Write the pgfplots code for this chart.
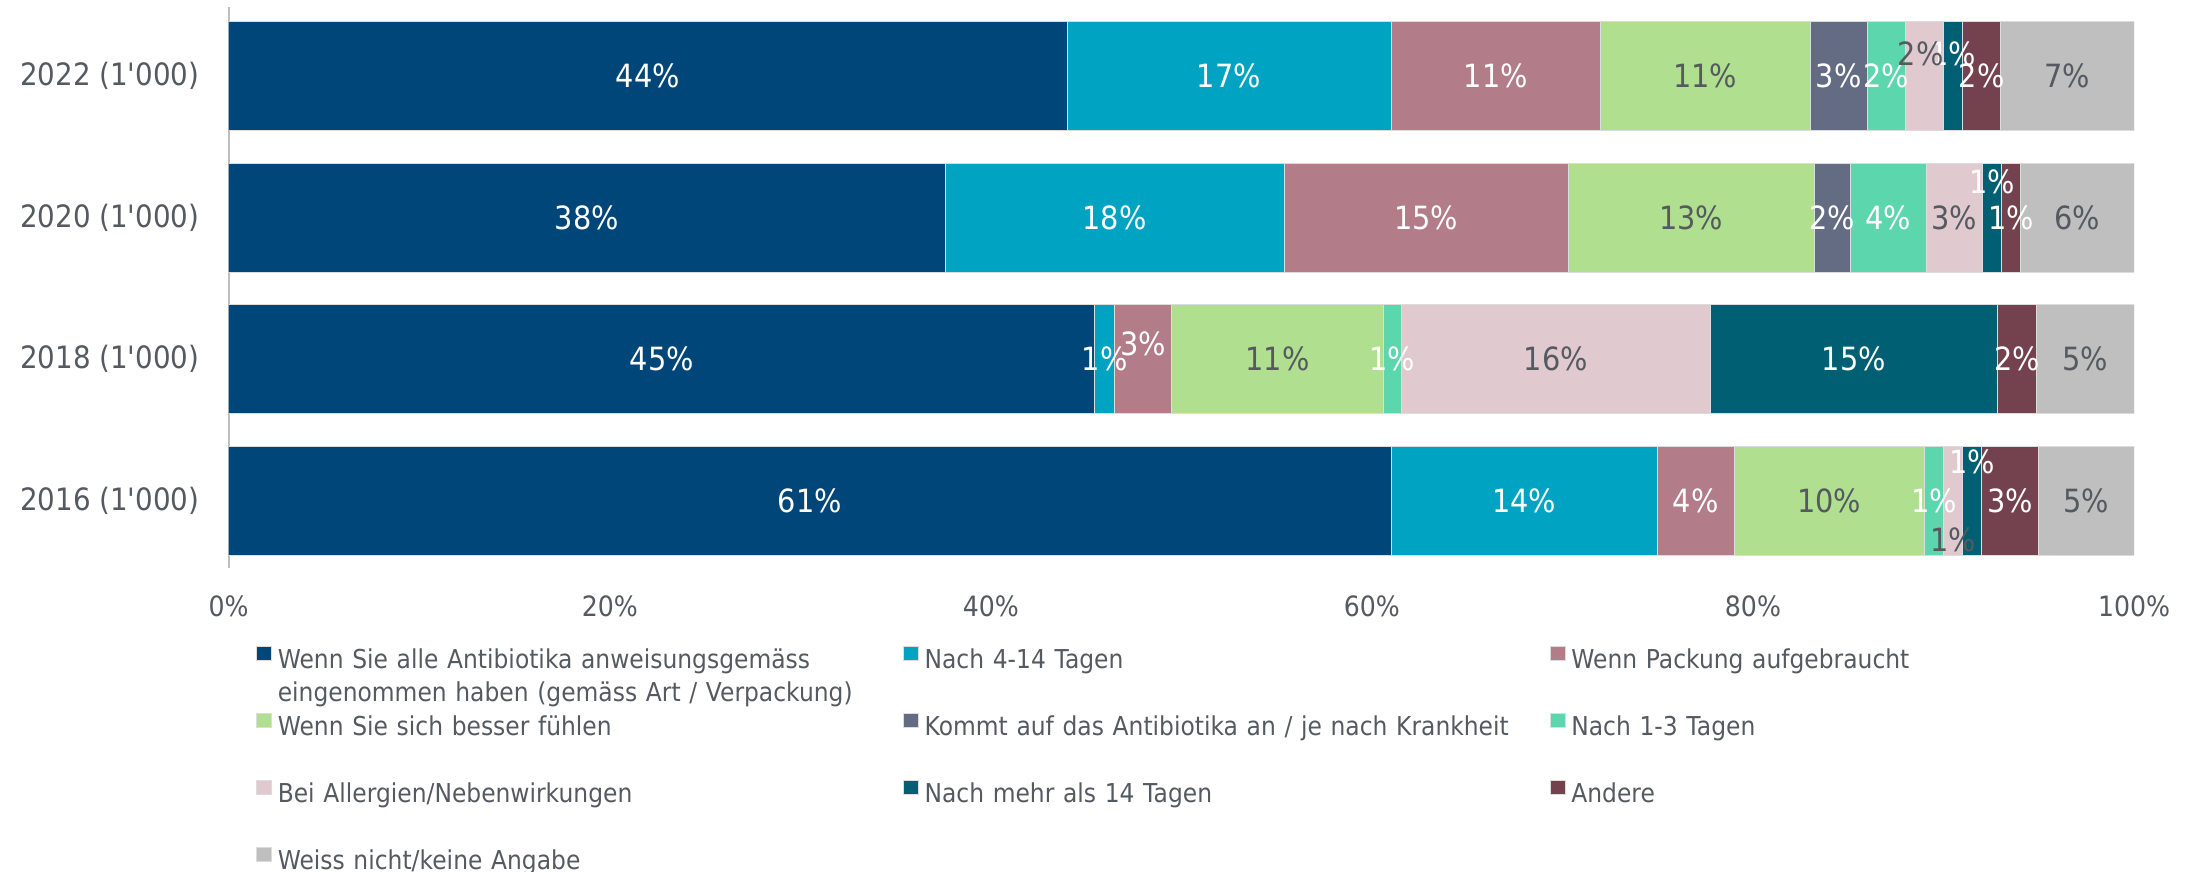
\documentclass[border=0pt]{standalone}
\usepackage{pgfplots}
\usepackage{pgfplotstable}
\pgfplotsset{compat=1.18}
\usepackage{fontspec}
\setmainfont{DejaVu Sans}[FakeStretch=0.9, Ligatures=TeXOff]
\definecolor{c1}{RGB}{0,70,120}
\definecolor{c2}{RGB}{0,163,194}
\definecolor{c3}{RGB}{178,124,136}
\definecolor{c4}{RGB}{176,224,143}
\definecolor{c5}{RGB}{99,108,131}
\definecolor{c6}{RGB}{92,214,172}
\definecolor{c7}{RGB}{224,201,207}
\definecolor{c8}{RGB}{0,95,115}
\definecolor{c9}{RGB}{115,66,78}
\definecolor{c10}{RGB}{191,191,191}
\definecolor{txt}{RGB}{85,90,96}
\definecolor{seam}{RGB}{220,220,220}

\pgfplotstableread{
y A B C D E F G H I J
0 61 14 4 10 0 1 1 1 3 5
1 45.45 1.05 3.0 11.1 0 0.95 16.2 15.1 2.05 5.1
2 37.6 17.8 14.9 12.9 1.9 4.0 2.95 1.0 1.0 5.95
3 44 17 11 11 3 2 2 1 2 7
}\data

\pgfplotstableread{
x y lab
22 3 44
52.5 3 17
66.5 3 11
84.5 3 3
87 3 2
90.5 3.16 1
92 3 2
18.8 2 38
46.5 2 18
62.85 2 15
84.15 2 2
87.1 2 4
92.55 2.255 1
93.55 2 1
22.725 1 45
45.975 1 1
48 1.11 3
61.075 1 1
85.3 1 15
93.875 1 2
30.5 0 61
68 0 14
77 0 4
89.5 0 1
91.5 0.27 1
93.5 0 3
}\labw

\pgfplotstableread{
x y lab
77.5 3 11
88.8 3.16 2
96.5 3 7
76.75 2 13
90.575 2 3
97.025 2 6
55.05 1 11
69.65 1 16
97.45 1 5
84 0 10
90.5 -0.28 1
97.5 0 5
}\labg

\pgfplotsset{
  myleg/.style={legend image code/.code={\fill[##1] (0pt,0pt) rectangle (7.5pt,7pt); \path (10.5pt,0pt);}},
  barsty/.style={fill=#1, draw=seam, line width=0.4pt, myleg},
}

\begin{document}
\begin{tikzpicture}
\begin{axis}[
  at={(114.35pt,152pt)}, anchor=south west,
  scale only axis, width=952.65pt, height=280.5pt,
  xbar stacked, bar width=54.5pt,
  xmin=0, xmax=100, ymin=-0.477, ymax=3.489,
  axis x line*=bottom, axis y line*=left,
  x axis line style={draw=none},
  y axis line style={draw=c10, line width=1pt},
  major tick length=0pt, tick style={draw=none},
  ytick={0,1,2,3},
  yticklabels={2016 (1'000), 2018 (1'000), 2020 (1'000), 2022 (1'000)},
  xtick={0,20,40,60,80,100},
  xticklabels={0\%,20\%,40\%,60\%,80\%,100\%},
  yticklabel style={font=\fontsize{15.4}{18}\selectfont, text=txt, inner sep=0pt, anchor=east, xshift=-14.5pt},
  xticklabel style={font=\fontsize{14}{17}\selectfont, text=txt, inner sep=0pt, anchor=base, yshift=-24.5pt},
  legend columns=3,
  legend cell align=left,
  legend style={at={(axis description cs:0.01433,-0.139)}, anchor=north west,
    draw=none, fill=none, inner sep=0pt, outer sep=0pt,
    column sep=0pt, row sep=20.5pt,
    font=\fontsize{13}{16.5}\selectfont, text=txt,
    nodes={inner sep=0pt, outer sep=0pt},
    /tikz/every even column/.append style={text width=312.5pt, align=left, text height=10pt, text depth=3pt}},
]
\addplot[barsty=c1] table[x=A, y=y]{\data};
\addlegendentry{Wenn Sie alle Antibiotika anweisungsgemäss\\eingenommen haben (gemäss Art / Verpackung)}
\addplot[barsty=c2] table[x=B, y=y]{\data};
\addlegendentry{Nach 4-14 Tagen}
\addplot[barsty=c3] table[x=C, y=y]{\data};
\addlegendentry{Wenn Packung aufgebraucht}
\addplot[barsty=c4] table[x=D, y=y]{\data};
\addlegendentry{Wenn Sie sich besser fühlen}
\addplot[barsty=c5] table[x=E, y=y]{\data};
\addlegendentry{Kommt auf das Antibiotika an / je nach Krankheit}
\addplot[barsty=c6] table[x=F, y=y]{\data};
\addlegendentry{Nach 1-3 Tagen}
\addplot[barsty=c7] table[x=G, y=y]{\data};
\addlegendentry{Bei Allergien/Nebenwirkungen}
\addplot[barsty=c8] table[x=H, y=y]{\data};
\addlegendentry{Nach mehr als 14 Tagen}
\addplot[barsty=c9] table[x=I, y=y]{\data};
\addlegendentry{Andere}
\addplot[barsty=c10] table[x=J, y=y]{\data};
\addlegendentry{Weiss nicht/keine Angabe}
\end{axis}
\begin{axis}[
  at={(114.35pt,152pt)}, anchor=south west,
  scale only axis, width=952.65pt, height=280.5pt,
  xmin=0, xmax=100, ymin=-0.477, ymax=3.489,
  hide axis, clip=false,
]
\addplot[only marks, mark=none, point meta=explicit symbolic,
  nodes near coords={\pgfplotspointmeta\%},
  every node near coord/.append style={anchor=center, inner sep=0pt, text=white, font=\fontsize{16}{19}\selectfont}]
  table[x=x, y=y, meta=lab]{\labw};
\addplot[only marks, mark=none, point meta=explicit symbolic,
  nodes near coords={\pgfplotspointmeta\%},
  every node near coord/.append style={anchor=center, inner sep=0pt, text=txt, font=\fontsize{16}{19}\selectfont}]
  table[x=x, y=y, meta=lab]{\labg};
\end{axis}
\pgfresetboundingbox
\path (0,0) rectangle (1100pt,436pt);
\end{tikzpicture}
\end{document}
